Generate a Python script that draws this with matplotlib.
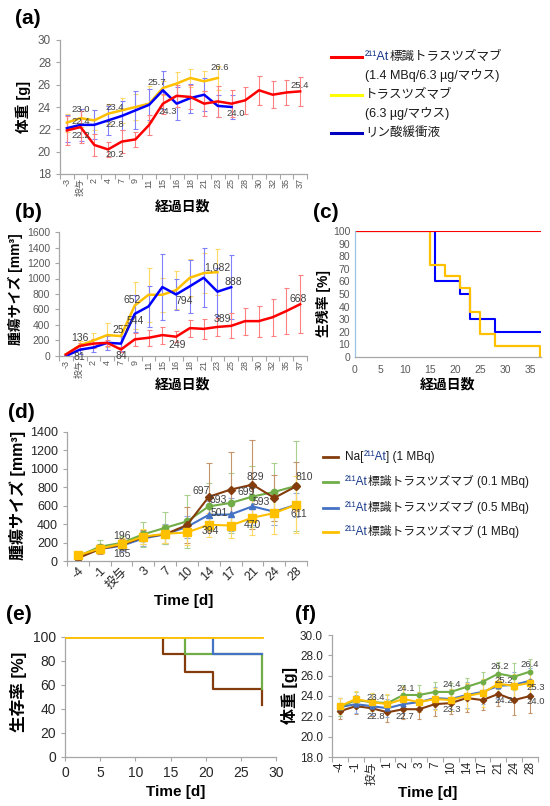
import numpy as np
import matplotlib
matplotlib.use('Agg')
import matplotlib.pyplot as plt

plt.rcParams['font.family'] = ['Liberation Sans', 'Noto Sans CJK JP', 'DejaVu Sans']

# ---------------- data: panels (a) and (b) ----------------
days_ab = ['-3', '投与', '2', '4', '7', '9', '11', '15', '16', '18', '21', '23',
           '25', '28', '30', '32', '35', '37']
wt_at = [21.9, 22.2, 20.6, 20.2, 20.9, 21.1, 22.4, 24.3, 25.0, 24.9, 24.3, 24.5,
         24.3, 24.6, 25.5, 25.1, 25.3, 25.4]
wt_at_err = [1.3, 1.4, 1.0, 0.7, 1.0, 0.7, 0.9, 0.9, 1.0, 1.1, 1.1, 1.4, 1.2, 1.2,
             1.3, 1.2, 1.1, 1.3]
wt_tz = [22.6, 23.0, 22.8, 23.4, 23.7, 24.0, 24.3, 25.7, 26.1, 26.6, 26.3, 26.6]
wt_tz_err = [0.8, 0.8, 0.9, 0.9, 1.1, 1.2, 1.6, 0.6, 1.0, 0.8, 0.9, 1.1]
wt_pbs = [22.1, 22.4, 22.4, 22.8, 23.2, 23.7, 24.2, 25.5, 24.3, 24.8, 25.1, 24.1, 24.0]
wt_pbs_err = [1.2, 1.4, 1.3, 1.3, 1.3, 1.7, 1.4, 1.7, 1.5, 1.3, 1.5, 1.0, 1.1]

tv_at = [20, 130, 160, 170, 84, 215, 235, 270, 249, 360, 350, 375, 389, 450, 450,
         500, 580, 668]
tv_at_err = [10, 40, 60, 40, 30, 80, 100, 110, 70, 110, 125, 120, 160, 175, 200,
             240, 300, 375]
tv_tz = [20, 136, 200, 270, 257, 652, 790, 790, 850, 1010, 1070, 1082]
tv_tz_err = [20, 60, 100, 150, 140, 300, 350, 220, 250, 240, 260, 300]
tv_pbs = [0, 81, 110, 170, 160, 544, 640, 890, 794, 900, 1010, 830, 888]
tv_pbs_err = [5, 50, 60, 90, 100, 240, 260, 420, 200, 340, 380, 310, 410]

# ---------------- data: panel (c) survival ----------------
c_t_at = [0, 37]
c_s_at = [100, 100]
c_t_tz = [0, 15, 18, 21, 23, 25, 28, 37, 37]
c_s_tz = [100, 73, 64, 55, 36, 18, 9, 9, 0]
c_t_pbs = [0, 16, 21, 23, 28, 37]
c_s_pbs = [100, 60, 50, 30, 20, 20]

# ---------------- data: panel (d) ----------------
days_d = ['-4', '-1', '投与', '3', '7', '10', '14', '17', '21', '24', '28']
tv_na = [30, 130, 175, 260, 290, 390, 697, 775, 829, 685, 810]
tv_na_err = [10, 50, 60, 80, 100, 200, 370, 410, 485, 250, 265]
tv_01 = [50, 155, 196, 290, 360, 430, 593, 630, 699, 750, 815]
tv_01_err = [20, 73, 70, 137, 175, 285, 254, 325, 330, 314, 485]
tv_05 = [40, 130, 165, 245, 290, 370, 501, 505, 593, 535, 610]
tv_05_err = [10, 40, 60, 80, 110, 120, 150, 180, 200, 140, 130]
tv_1 = [60, 135, 185, 265, 295, 310, 394, 385, 470, 520, 611]
tv_1_err = [20, 40, 60, 80, 100, 140, 130, 140, 190, 230, 307]

# ---------------- data: panel (e) survival ----------------
e_t_na = [0, 14, 17, 21, 28, 28]
e_s_na = [100, 86, 71, 57, 57, 43]
e_t_01 = [0, 17, 28, 28]
e_s_01 = [100, 86, 86, 57]
e_t_05 = [0, 21, 28]
e_s_05 = [100, 86, 86]
e_t_1 = [0, 28]
e_s_1 = [100, 100]

# ---------------- data: panel (f) ----------------
days_f = ['-4', '-1', '投与', '1', '2', '3', '7', '10', '14', '17', '21', '24', '28']
wf_na = [22.5, 23.0, 22.8, 22.4, 22.7, 22.7, 23.2, 23.3, 23.8, 23.6, 24.2, 23.6, 24.0]
wf_na_err = [0.8, 0.8, 0.8, 1.0, 1.0, 1.0, 1.2, 1.1, 1.4, 1.0, 1.2, 1.5, 1.7]
wf_01 = [22.9, 23.6, 23.4, 23.3, 24.1, 24.1, 24.4, 24.4, 24.9, 25.4, 26.2, 25.9, 26.4]
wf_01_err = [0.9, 0.8, 0.9, 0.8, 1.0, 1.0, 1.0, 0.9, 0.9, 1.0, 1.1, 1.3, 1.2]
wf_05 = [22.9, 23.2, 23.0, 22.8, 23.2, 23.4, 23.8, 23.7, 24.1, 24.4, 25.0, 25.1, 25.5]
wf_05_err = [0.9, 0.9, 0.9, 0.9, 0.9, 1.0, 1.1, 1.0, 1.3, 1.2, 1.3, 1.3, 1.3]
wf_1 = [23.0, 23.7, 23.4, 23.2, 23.7, 23.4, 23.7, 23.6, 24.0, 24.3, 25.2, 25.0, 25.3]
wf_1_err = [0.8, 0.8, 0.9, 1.0, 1.2, 1.0, 1.1, 1.1, 1.3, 1.4, 1.1, 1.2, 1.2]

# ---------------- colours ----------------
RED, YEL, BLU = '#ff0000', '#ffc000', '#0000ff'
BRN, GRN, BL2, YL2 = '#843c0c', '#70ad47', '#4472c4', '#ffc000'
NAVY = '#1a3a8a'

W, H = 550, 806
fig = plt.figure(figsize=(W / 100, H / 100), dpi=100)


def add_ax(l, t, r, b):
    return fig.add_axes([l / W, 1 - b / H, (r - l) / W, (b - t) / H])


def base_style(ax, fs, spine='#a6a6a6', tcol='#595959'):
    for s in ['top', 'right']:
        ax.spines[s].set_visible(False)
    for s in ['left', 'bottom']:
        ax.spines[s].set_color(spine)
        ax.spines[s].set_linewidth(0.9)
    ax.tick_params(axis='both', which='both', colors=spine, labelcolor=tcol,
                   labelsize=fs, length=3, width=0.8, direction='out')


def cat_x(ax, labels, rot, fs, ha='center', mode='default'):
    n = len(labels)
    ax.set_xlim(-0.5, n - 0.5)
    ax.set_xticks(np.arange(n))
    ax.set_xticklabels(labels, rotation=rot, fontsize=fs, ha=ha, rotation_mode=mode)
    ax.tick_params(axis='x', which='major', length=0, pad=3)
    ax.set_xticks(np.arange(n + 1) - 0.5, minor=True)
    ax.tick_params(axis='x', which='minor', length=3.5)


def ebar(ax, y, err, color, ecolor, lw=1.8, cap=1.8, **kw):
    x = np.arange(len(y))
    ax.errorbar(x, y, yerr=err, color=color, lw=lw, ecolor=ecolor,
                elinewidth=0.8, capsize=cap, capthick=0.8, **kw)


def lab(ax, series, i, s, dx, dy, fs=7, col='#404040'):
    ax.annotate(s, (i, series[i]), xytext=(dx * 0.72, dy * 0.72),
                textcoords='offset points', ha='center', va='center',
                fontsize=fs, color=col, zorder=10)


# ================= panel (a) =================
axA = add_ax(60, 40, 307, 174)
base_style(axA, 8.5)
cat_x(axA, days_ab, 90, 6.5)
ebar(axA, wt_tz, wt_tz_err, YEL, '#ffd966')
ebar(axA, wt_pbs, wt_pbs_err, BLU, '#8080ff')
ebar(axA, wt_at, wt_at_err, RED, '#ff8080')
axA.set_ylim(18, 30)
axA.set_yticks(range(18, 31, 2))
for ser, i, s, dx, dy in [(wt_tz, 1, '23.0', 0, 9), (wt_pbs, 1, '22.4', 0, 3),
                          (wt_at, 1, '22.2', 0, -8), (wt_tz, 3, '23.4', 7, 6),
                          (wt_pbs, 3, '22.8', 7, -4), (wt_at, 3, '20.2', 7, -5),
                          (wt_tz, 7, '25.7', -6, 6), (wt_at, 7, '24.3', 5, -8),
                          (wt_tz, 11, '26.6', 2, 10), (wt_pbs, 12, '24.0', 4, -7),
                          (wt_at, 17, '25.4', 0, 6)]:
    lab(axA, ser, i, s, dx, dy, fs=6.8)

# ================= panel (b) =================
axB = add_ax(59, 232, 307, 356)
base_style(axB, 7.5)
cat_x(axB, days_ab, 90, 6.5)
ebar(axB, tv_tz, tv_tz_err, YEL, '#ffd966')
ebar(axB, tv_pbs, tv_pbs_err, BLU, '#8080ff')
ebar(axB, tv_at, tv_at_err, RED, '#ff8080')
axB.set_ylim(0, 1600)
axB.set_yticks(range(0, 1601, 200))
for ser, i, s, dx, dy in [(tv_tz, 1, '136', 0, 7), (tv_pbs, 1, '81', 0, -7),
                          (tv_tz, 4, '257', 0, 6), (tv_at, 4, '84', 0, -7),
                          (tv_tz, 5, '652', -3, 5), (tv_pbs, 5, '544', 0, -7),
                          (tv_pbs, 8, '794', 8, -7), (tv_at, 8, '249', 1, -8),
                          (tv_tz, 11, '1,082', 0, 5), (tv_pbs, 12, '888', 2, 5),
                          (tv_at, 12, '389', -9, 7), (tv_at, 17, '668', -2, 5)]:
    lab(axB, ser, i, s, dx, dy, fs=7.5)

# ================= panel (c) =================
axC = add_ax(355, 231, 541, 357)
base_style(axC, 7.5)
axC.spines['left'].set_color('#9dc3e6')
axC.step(c_t_pbs, c_s_pbs, where='post', color=BLU, lw=1.5)
axC.step(c_t_tz, c_s_tz, where='post', color=YEL, lw=1.6)
axC.step(c_t_at, c_s_at, where='post', color=RED, lw=1.5)
axC.set_xlim(0, 37.2)
axC.set_ylim(0, 100)
axC.set_xticks(range(0, 36, 5))
axC.set_yticks(range(0, 101, 10))
axC.tick_params(axis='both', length=0)
axC.tick_params(axis='x', labelsize=7.5, pad=6)

# ================= panel (d) =================
axD = add_ax(67, 432, 307, 561)
base_style(axD, 9, spine='#a6a6a6', tcol='#262626')
cat_x(axD, days_d, 45, 9, ha='right', mode='anchor')
ebar(axD, tv_05, tv_05_err, BL2, '#8faadc', lw=1.5, cap=2, marker='^', ms=4.5)
ebar(axD, tv_01, tv_01_err, GRN, '#a9d18e', lw=1.5, cap=2, marker='o', ms=4.5)
ebar(axD, tv_na, tv_na_err, BRN, '#c5946a', lw=1.5, cap=2, marker='D', ms=3.8)
ebar(axD, tv_1, tv_1_err, YL2, '#ffd966', lw=1.5, cap=2, marker='s', ms=5.5)
axD.set_ylim(0, 1400)
axD.set_yticks(range(0, 1401, 200))
for ser, i, s, dx, dy in [(tv_01, 2, '196', 0, 7), (tv_05, 2, '165', 0, -8),
                          (tv_na, 6, '697', -8, 6), (tv_01, 6, '593', 9, 6),
                          (tv_05, 6, '501', 10, 2), (tv_1, 6, '394', 2, -6),
                          (tv_na, 8, '829', 3, 8), (tv_01, 8, '699', -6, 5),
                          (tv_05, 8, '593', 9, 4), (tv_1, 8, '470', 0, -7),
                          (tv_na, 10, '810', 8, 9), (tv_1, 10, '611', 3, -9)]:
    lab(axD, ser, i, s, dx, dy, fs=7.5)

# ================= panel (e) =================
axE = add_ax(65, 637, 276, 757)
base_style(axE, 10, spine='#a6a6a6', tcol='#262626')
axE.step(e_t_na, e_s_na, where='post', color=BRN, lw=1.6)
axE.step(e_t_01, e_s_01, where='post', color=GRN, lw=1.6)
axE.step(e_t_05, e_s_05, where='post', color=BL2, lw=1.6)
axE.step(e_t_1, e_s_1, where='post', color=YL2, lw=2.0, zorder=5)
axE.set_xlim(0, 30)
axE.set_ylim(0, 100)
axE.set_xticks(range(0, 31, 5))
axE.set_yticks(range(0, 101, 20))

# ================= panel (f) =================
axF = add_ax(332, 635, 538, 757)
base_style(axF, 8.5, spine='#a6a6a6', tcol='#262626')
cat_x(axF, days_f, 90, 8.5)
ebar(axF, wf_na, wf_na_err, BRN, '#c5946a', lw=1.5, cap=1.5, marker='D', ms=3.2)
ebar(axF, wf_05, wf_05_err, BL2, '#8faadc', lw=1.5, cap=1.5, marker='^', ms=3.5)
ebar(axF, wf_01, wf_01_err, GRN, '#a9d18e', lw=1.5, cap=1.5, marker='o', ms=3.2)
ebar(axF, wf_1, wf_1_err, YL2, '#ffd966', lw=1.5, cap=1.5, marker='s', ms=5)
axF.set_ylim(18, 30)
axF.set_yticks(np.arange(18, 30.1, 2))
axF.set_yticklabels([f'{v:.1f}' for v in np.arange(18, 30.1, 2)])
for ser, i, s, dx, dy in [(wf_01, 2, '23.4', 4, 5), (wf_na, 2, '22.8', 4, -8),
                          (wf_01, 4, '24.1', 2, 6), (wf_na, 4, '22.7', 2, -7),
                          (wf_01, 7, '24.4', 1, 7), (wf_na, 7, '23.3', 1, -6),
                          (wf_01, 10, '26.2', 1, 7), (wf_1, 10, '25.2', 5, 3),
                          (wf_na, 10, '24.2', 5, -7), (wf_01, 12, '26.4', 0, 7),
                          (wf_1, 12, '25.3', 6, -5), (wf_na, 12, '24.0', 6, -6)]:
    lab(axF, ser, i, s, dx, dy, fs=6.8)

# ================= overlay for labels / legends (pixel coordinates) ==========
ov = fig.add_axes([0, 0, 1, 1])
ov.set_xlim(0, W)
ov.set_ylim(H, 0)
ov.axis('off')
ov.patch.set_alpha(0)

for s, x, y in [('(a)', 28, 19), ('(b)', 28, 212), ('(c)', 326, 212),
                ('(d)', 21, 412), ('(e)', 19, 614), ('(f)', 305, 614)]:
    ov.text(x, y, s, fontsize=15, weight='bold', ha='center', va='center')

for s, x, y, fs in [('体重 [g]', 23, 107, 10.5), ('腫瘍サイズ [mm³]', 15, 289, 10),
                    ('生残率 [%]', 323, 304, 10), ('腫瘍サイズ [mm³]', 18, 495, 11.5),
                    ('生存率 [%]', 18, 692, 12), ('体重 [g]', 290, 695, 11.5)]:
    ov.text(x, y, s, fontsize=fs, weight='bold', rotation=90, ha='center', va='center')

for s, x, y, fs in [('経過日数', 183, 207, 10), ('経過日数', 183, 384, 10),
                    ('経過日数', 448, 384, 10), ('Time [d]', 184, 601, 11),
                    ('Time [d]', 176, 792, 11), ('Time [d]', 428, 793, 11)]:
    ov.text(x, y, s, fontsize=fs, weight='bold', ha='center', va='center')


def at_text(x, y, rest, fs):
    t1 = ov.text(x, y, '²¹¹At', fontsize=fs, color=NAVY, ha='left', va='center')
    ov.annotate(rest, xy=(1, 0), xycoords=t1, ha='left', va='bottom',
                fontsize=fs, color='#1a1a1a')


# legend (a)
ov.plot([331, 362], [57, 57], color=RED, lw=2.2)
at_text(365, 57, '標識トラスツズマブ', 9)
ov.text(365, 75, '(1.4 MBq/6.3 µg/マウス)', fontsize=9, color='#1a1a1a', va='center')
ov.plot([331, 362], [95, 95], color='#ffff00', lw=2.2)
ov.text(365, 95, 'トラスツズマブ', fontsize=9, color='#1a1a1a', va='center')
ov.text(365, 113, '(6.3 µg/マウス)', fontsize=9, color='#1a1a1a', va='center')
ov.plot([331, 362], [133, 133], color='#0000c0', lw=2.2)
ov.text(365, 133, 'リン酸緩衝液', fontsize=9, color='#1a1a1a', va='center')

# legend (d)
ov.plot([323, 338], [457, 457], color=BRN, lw=2)
t = ov.text(345, 457, 'Na[', fontsize=8.5, color='#1a1a1a', va='center')
t2 = ov.annotate('²¹¹At', xy=(1, 0), xycoords=t, ha='left', va='bottom',
                 fontsize=8.5, color=NAVY)
ov.annotate('] (1 MBq)', xy=(1, 0), xycoords=t2, ha='left', va='bottom',
            fontsize=8.5, color='#1a1a1a')
for y, c, dose in [(482, GRN, '0.1 MBq'), (508, BL2, '0.5 MBq'), (532, YL2, '1 MBq')]:
    ov.plot([323, 338], [y, y], color=c, lw=2)
    at_text(345, y, f'標識トラスツズマブ ({dose})', 8.5)

fig.savefig('out.png', dpi=100)
